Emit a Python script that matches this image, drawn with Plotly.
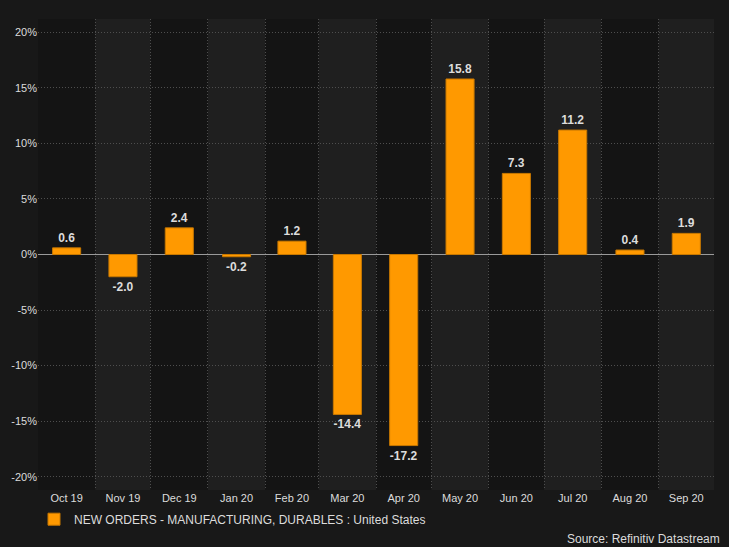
import pandas as pd
import plotly.graph_objects as go

months = ["2019-10", "2019-11", "2019-12", "2020-01", "2020-02", "2020-03",
          "2020-04", "2020-05", "2020-06", "2020-07", "2020-08", "2020-09"]
values = [0.6, -2.0, 2.4, -0.2, 1.2, -14.4, -17.2, 15.8, 7.3, 11.2, 0.4, 1.9]
series_name = "NEW ORDERS - MANUFACTURING, DURABLES : United States"
source_text = "Source: Refinitiv Datastream"
y_ticks = [-20, -15, -10, -5, 0, 5, 10, 15, 20]
y_tick_labels = [f"{v}%" for v in y_ticks]

starts = pd.to_datetime([m + "-01" for m in months])
ends = starts + pd.offsets.MonthBegin(1)
mids = starts + (ends - starts) / 2

BG = "#181818"
DARK = "#141414"
LIGHT = "#1f1f1f"
GRID = "#4e4e4e"
TXT = "#dcdcdc"
FONT = "Liberation Sans, Arial, sans-serif"

fig = go.Figure()
fig.add_trace(go.Bar(
    x=mids, y=values, name=series_name,
    width=15.2 * 24 * 3600 * 1000,
    marker=dict(color="#ff9900", line=dict(color="#c87800", width=1)),
    text=[f"{v:.1f}" for v in values], textposition="outside",
    textfont=dict(color=TXT, size=12, family=FONT, weight="bold"),
    cliponaxis=False,
))

for i, (s, e) in enumerate(zip(starts, ends)):
    fig.add_shape(type="rect", xref="x", yref="paper", x0=s, x1=e, y0=0, y1=1,
                  fillcolor=LIGHT if i % 2 == 1 else DARK, line_width=0, layer="below")

fig.update_layout(
    width=729, height=547,
    paper_bgcolor=BG, plot_bgcolor=DARK,
    margin=dict(l=38, r=15, t=19, b=57),
    font=dict(family=FONT, color=TXT, size=11),
    showlegend=True,
    legend=dict(orientation="h", x=-0.0059, xanchor="left", y=-0.062, yanchor="middle",
                font=dict(size=12, color=TXT), bgcolor="rgba(0,0,0,0)"),
)
fig.update_xaxes(
    type="date", range=[starts[0], ends[-1]],
    tick0=starts[0], dtick="M1", tickformat="%b %y", ticklabelmode="period",
    showgrid=True, gridcolor=GRID, griddash="1px,2px", gridwidth=1,
    ticks="", showline=False, zeroline=False,
    tickfont=dict(size=11, color=TXT),
)
fig.update_yaxes(
    range=[-21.2, 21.2], tickmode="array", tickvals=y_ticks, ticktext=y_tick_labels,
    showgrid=True, gridcolor=GRID, griddash="1px,2px", gridwidth=1,
    zeroline=True, zerolinecolor="#9a9a9a", zerolinewidth=1,
    ticks="", showline=False, tickfont=dict(size=11, color=TXT),
)
fig.add_annotation(text=source_text, xref="paper", yref="paper",
                   x=1.0, y=-0.1, xanchor="right", yanchor="middle",
                   xshift=8, yshift=-2,
                   showarrow=False, font=dict(size=12, color=TXT))

fig.write_html("out.html", config={"displayModeBar": False},
               post_script="document.body.style.margin='0';document.body.style.overflow='hidden';")
